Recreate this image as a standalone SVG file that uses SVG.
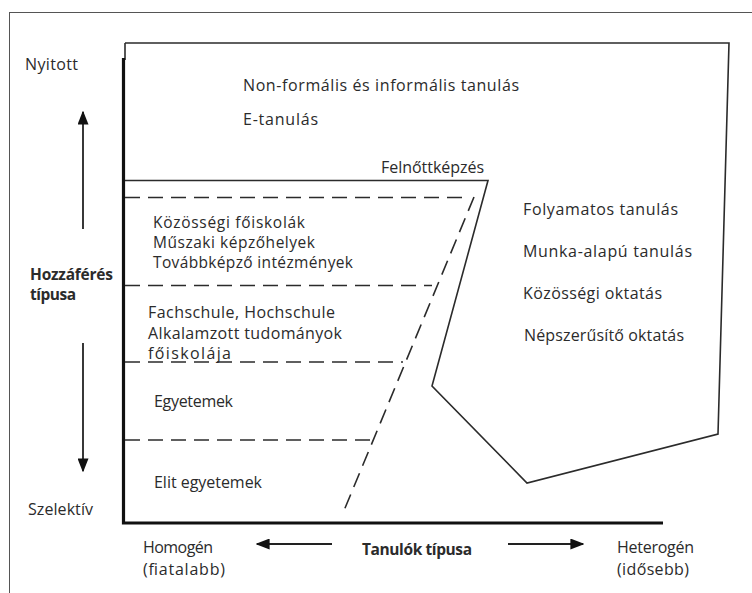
<svg xmlns="http://www.w3.org/2000/svg" width="752" height="593" viewBox="0 0 752 593">
<style>
text{font-family:"Open Sans","Noto Sans","Liberation Sans",sans-serif;font-size:16px;fill:#2b2b2b}
.s{font-size:15.5px}
.b{font-weight:bold;font-size:15.5px}
.solid{fill:none;stroke:#2b2b2b;stroke-width:1.6;stroke-linejoin:miter}
.dash{fill:none;stroke:#2b2b2b;stroke-width:1.6;stroke-dasharray:15 8}
.axis{fill:none;stroke:#111;stroke-width:3.2}
.arr{fill:none;stroke:#222;stroke-width:1.8}
</style>
<defs>
<marker id="ah2" viewBox="0 0 10 10" refX="9" refY="5" markerWidth="14" markerHeight="11" markerUnits="userSpaceOnUse" orient="auto" preserveAspectRatio="none">
<path d="M0,0 L10,5 L0,10 z" fill="#111"/>
</marker>
</defs>
<rect width="752" height="593" fill="#fff"/>
<rect x="9.5" y="12.5" width="760" height="600" fill="none" stroke="#555" stroke-width="1"/>

<g id="connectors">
<path class="solid" d="M125,43 L729,43 L718,434 L527,483 L432,386 L488,180.5 L125,180.5"/>
<path class="solid" d="M125,43 L125,60"/>
<path class="axis" d="M123.5,58 L123.5,523 L663,523"/>
<path class="dash" d="M125,197.5 L470,197.5"/>
<path class="dash" d="M125,285.5 L432,285.5"/>
<path class="dash" d="M125,362 L403,362"/>
<path class="dash" d="M125,440 L374,440"/>
<path class="dash" d="M474,197 L343,513"/>
<path class="arr" d="M83,229 L83,112" marker-end="url(#ah2)"/>
<path class="arr" d="M83,343 L83,471" marker-end="url(#ah2)"/>
<path class="arr" d="M332,544 L257,544" marker-end="url(#ah2)"/>
<path class="arr" d="M508,544 L583,544" marker-end="url(#ah2)"/>
</g>

<g id="axis-labels">
<text x="25" y="70" textLength="53">Nyitott</text>
<text class="b" x="30" y="280" textLength="83">Hozzáférés</text>
<text class="b" x="30" y="300" textLength="46">típusa</text>
<text x="28" y="515" textLength="65">Szelektív</text>
<text x="143" y="553" textLength="70">Homogén</text>
<text x="143" y="575" textLength="82">(fiatalabb)</text>
<text class="b" x="362" y="555" textLength="110">Tanulók típusa</text>
<text x="617" y="553" textLength="77">Heterogén</text>
<text x="617" y="575" textLength="72">(idősebb)</text>
</g>

<g id="node-nonformal">
<text x="243" y="91" textLength="276">Non-formális és informális tanulás</text>
<text x="243" y="125" textLength="75">E-tanulás</text>
</g>
<g id="node-felnott">
<text x="381" y="173" textLength="103">Felnőttképzés</text>
</g>
<g id="node-kozossegi">
<text class="s" x="153" y="228" textLength="152">Közösségi főiskolák</text>
<text class="s" x="153" y="248" textLength="162">Műszaki képzőhelyek</text>
<text class="s" x="153" y="268" textLength="200">Továbbképző intézmények</text>
</g>
<g id="node-fachschule">
<text x="148" y="318" textLength="187">Fachschule, Hochschule</text>
<text x="148" y="339" textLength="194">Alkalamzott tudományok</text>
<text x="148" y="359" textLength="83">főiskolája</text>
</g>
<g id="node-egyetemek">
<text x="154" y="407" textLength="79">Egyetemek</text>
</g>
<g id="node-elit">
<text x="154" y="488" textLength="108">Elit egyetemek</text>
</g>
<g id="node-folyamatos">
<text x="523" y="215" textLength="155">Folyamatos tanulás</text>
<text x="523" y="257" textLength="169">Munka-alapú tanulás</text>
<text x="523" y="299" textLength="139">Közösségi oktatás</text>
<text x="524" y="341" textLength="160">Népszerűsítő oktatás</text>
</g>
</svg>
